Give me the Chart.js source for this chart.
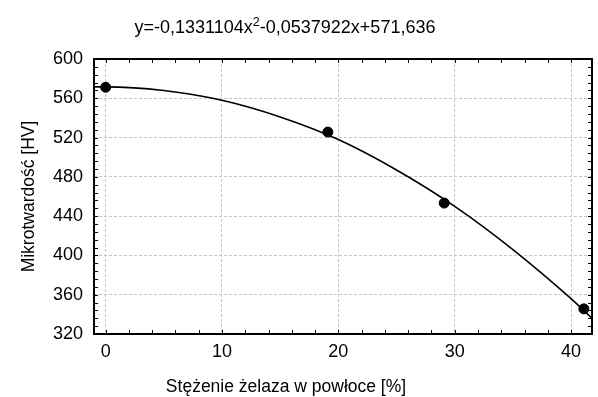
<!DOCTYPE html>
<html>
<head>
<meta charset="utf-8">
<script src="https://cdn.jsdelivr.net/npm/chart.js@4/dist/chart.umd.min.js"></script>
<style>
  html, body { margin: 0; padding: 0; background: #fff; }
  #wrap { width: 598px; height: 397px; }
</style>
</head>
<body>
<div id="wrap"><canvas id="myChart" width="598" height="397"></canvas></div>
<script>
// Punkty pomiarowe
const pomiarX = [0, 19.1, 29.1, 41.1]
const pomiarY = [571.2, 525.6, 453.3, 345.6]

// Krzywa dopasowania
const krzywaX = [-1, 0, 5, 10, 15, 20, 25, 30, 35, 40, 41.8]
const krzywaY = [571.6, 571.6, 568.0, 558.0, 541.0, 518.0, 487.0, 450.0, 406.0, 356.0, 336.0]

// Osie
const xMin = -1, xMax = 41.8, xMinor = 2
const xLabels = [0, 10, 20, 30, 40]
const yMin = 320, yMax = 600, yStep = 40, yMinor = 8

const tytul = ['y=-0,1331104x', '2', '-0,0537922x+571,636']
const tytulX = 'Stężenie żelaza w powłoce [%]'
const FONT = "'Liberation Sans', Arial, sans-serif"

// Tytuł z indeksem górnym i podpis osi X
const titlePlugin = {
  id: 'tytulRownania',
  afterDraw(chart) {
    const ctx = chart.ctx
    ctx.save()
    ctx.fillStyle = '#000'
    ctx.textBaseline = 'alphabetic'
    const big = `18px ${FONT}`, small = `12.5px ${FONT}`
    ctx.font = big
    const w1 = ctx.measureText(tytul[0]).width
    const w3 = ctx.measureText(tytul[2]).width
    ctx.font = small
    const w2 = ctx.measureText(tytul[1]).width
    let x = 285 - (w1 + w2 + w3) / 2
    const y = 33
    ctx.font = big
    ctx.fillText(tytul[0], x, y)
    x += w1
    ctx.font = small
    ctx.fillText(tytul[1], x, y - 7)
    x += w2
    ctx.font = big
    ctx.fillText(tytul[2], x, y)

    ctx.font = `17.5px ${FONT}`
    ctx.textAlign = 'center'
    ctx.fillText(tytulX, 286, 392)
    ctx.restore()
  }
}

// Ramka i znaczniki do wewnątrz
const framePlugin = {
  id: 'ramka',
  afterDatasetsDraw(chart) {
    const {ctx, chartArea: a, scales: {x, y}} = chart
    ctx.save()
    ctx.strokeStyle = '#000'
    ctx.lineWidth = 1
    ctx.beginPath()
    for (let v = 0; v <= xMax; v += xMinor) {
      const px = Math.round(x.getPixelForValue(v)) + 0.5
      ctx.moveTo(px, a.bottom); ctx.lineTo(px, a.bottom - 4)
      ctx.moveTo(px, a.top); ctx.lineTo(px, a.top + 4)
    }
    for (let v = yMin; v <= yMax; v += yMinor) {
      const py = Math.round(y.getPixelForValue(v)) + 0.5
      ctx.moveTo(a.left, py); ctx.lineTo(a.left + 4, py)
      ctx.moveTo(a.right, py); ctx.lineTo(a.right - 4, py)
    }
    ctx.stroke()
    ctx.lineWidth = 2
    ctx.strokeRect(a.left, a.top, a.right - a.left, a.bottom - a.top)
    ctx.restore()
  }
}

const data = {
  datasets: [
    {
      type: 'line',
      label: 'krzywa',
      data: krzywaX.map((v, i) => ({x: v, y: krzywaY[i]})),
      borderColor: '#000',
      borderWidth: 1.6,
      pointRadius: 0,
      fill: false,
      cubicInterpolationMode: 'monotone',
      order: 2
    },
    {
      type: 'scatter',
      label: 'pomiary',
      data: pomiarX.map((v, i) => ({x: v, y: pomiarY[i]})),
      backgroundColor: '#000',
      borderColor: '#000',
      pointRadius: 5,
      order: 1
    }
  ]
}

const config = {
  type: 'scatter',
  data: data,
  options: {
    responsive: false,
    animation: false,
    layout: { padding: { top: 59, right: 3, left: 0, bottom: 0 } },
    plugins: {
      legend: { display: false },
      tooltip: { enabled: false }
    },
    scales: {
      x: {
        type: 'linear',
        min: xMin,
        max: xMax,
        afterFit: s => { s.height = 63 },
        afterBuildTicks: s => { s.ticks = xLabels.map(v => ({value: v})) },
        ticks: { color: '#000', font: { family: FONT, size: 18 }, padding: 7, maxRotation: 0 },
        grid: { color: '#c4c4c4', drawTicks: false, lineWidth: 1 },
        border: { display: false, dash: [3, 2] },
        title: { display: false }
      },
      y: {
        min: yMin,
        max: yMax,
        afterFit: s => { s.width = 94 },
        ticks: { stepSize: yStep, color: '#000', font: { family: FONT, size: 18 }, padding: 11 },
        grid: { color: '#c4c4c4', drawTicks: false, lineWidth: 1 },
        border: { display: false, dash: [3, 2] },
        title: { display: true, text: 'Mikrotwardość [HV]', color: '#000', font: { family: FONT, size: 17.5 }, padding: { top: 19, bottom: 0 } }
      }
    }
  },
  plugins: [titlePlugin, framePlugin]
}

const ctx = document.getElementById('myChart')
const myChart = new Chart(ctx, config)
</script>
</body>
</html>
